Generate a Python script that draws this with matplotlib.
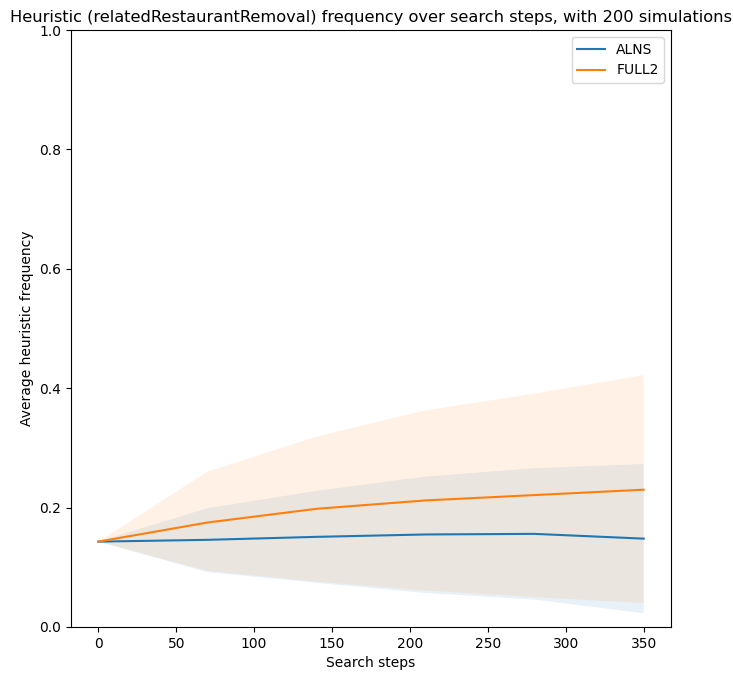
import numpy as np
import matplotlib.pyplot as plt

steps = [0, 70, 140, 210, 280, 350]

alns_mean = [0.143, 0.146, 0.151, 0.155, 0.156, 0.148]
alns_upper = [0.143, 0.199, 0.228, 0.252, 0.266, 0.273]
alns_lower = [0.143, 0.092, 0.074, 0.057, 0.046, 0.023]

full2_mean = [0.143, 0.175, 0.198, 0.212, 0.221, 0.230]
full2_upper = [0.143, 0.260, 0.319, 0.363, 0.391, 0.422]
full2_lower = [0.143, 0.094, 0.076, 0.061, 0.050, 0.040]

fig = plt.figure(figsize=(7.33, 6.73), dpi=100)
ax = fig.add_axes([71 / 733, 46 / 673, 600 / 733, 597 / 673])

ax.plot(steps, alns_mean, label='ALNS')
ax.fill_between(steps, alns_lower, alns_upper, alpha=0.1)
ax.plot(steps, full2_mean, label='FULL2')
ax.fill_between(steps, full2_lower, full2_upper, alpha=0.1)

ax.set_ylim(0, 1)
ax.set_title('Heuristic (relatedRestaurantRemoval) frequency over search steps, with 200 simulations',
             fontsize=11.7)
ax.set_xlabel('Search steps')
ax.set_ylabel('Average heuristic frequency')
ax.legend(loc='upper right')

plt.savefig('out.png', dpi=100)
